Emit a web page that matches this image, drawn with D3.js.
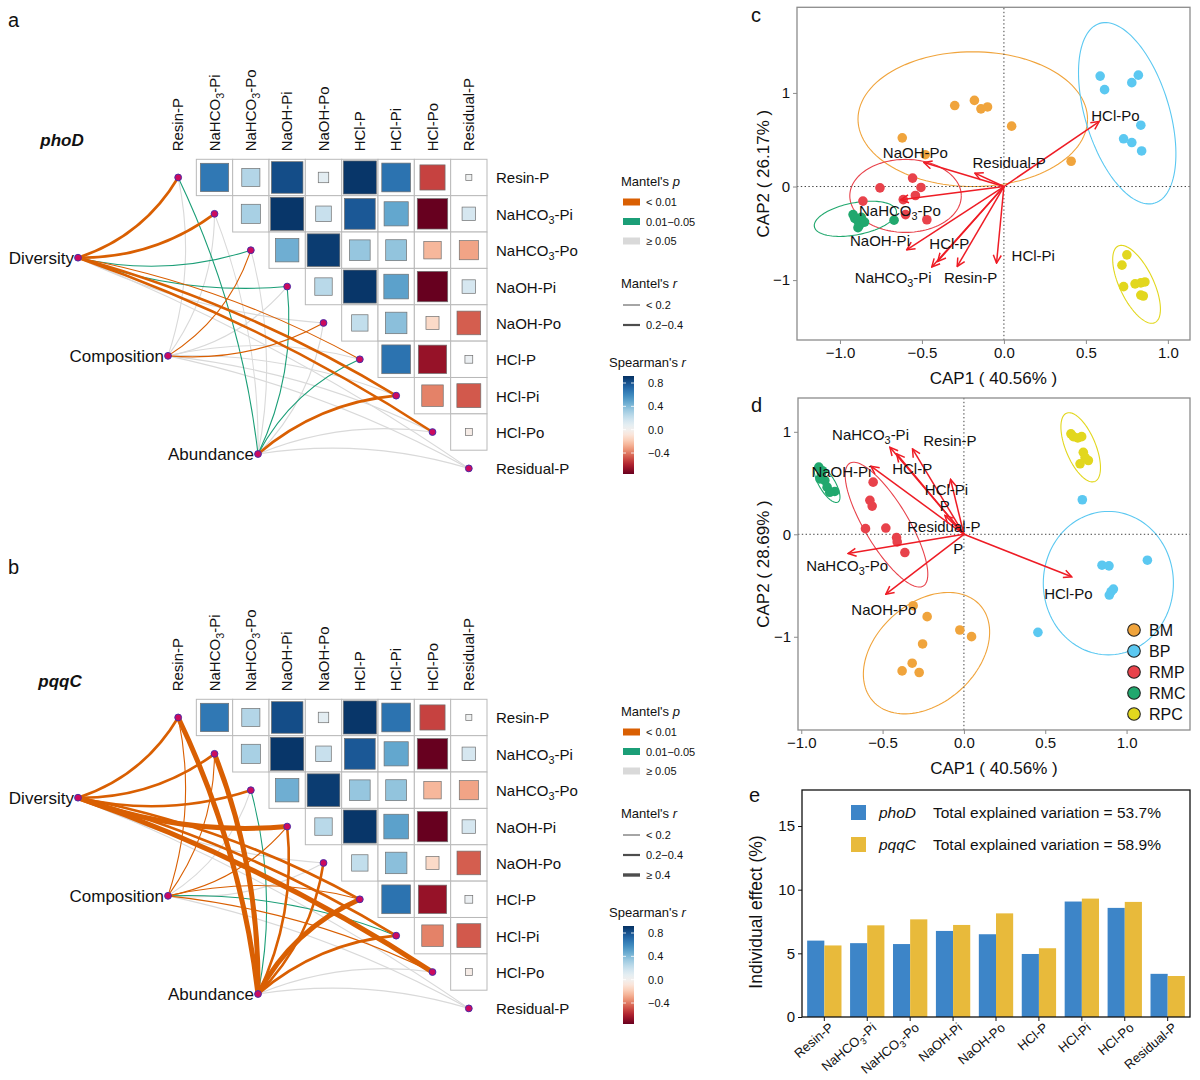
<!DOCTYPE html>
<html>
<head>
<meta charset="utf-8">
<script src="https://cdn.jsdelivr.net/npm/d3@7"></script>
<style>
  body { margin: 0; background: #fff; }
  svg { display: block; }
  text { font-family: "Liberation Sans", Arial, sans-serif; fill: #111; }
</style>
</head>
<body>
<svg id="fig" width="1200" height="1080"></svg>
<script>
// ---- data ----
var envVars = ["Resin-P", "NaHCO3-Pi", "NaHCO3-Po", "NaOH-Pi", "NaOH-Po", "HCl-P", "HCl-Pi", "HCl-Po", "Residual-P"];
var specVars = ["Diversity", "Composition", "Abundance"];

// Spearman r between soil P fractions, upper triangle (row i vs columns i+1..)
var spearmanRows = [
  [0.66, 0.27, 0.82, 0.09, 0.90, 0.68, -0.52, 0.03],
  [0.30, 0.90, 0.20, 0.78, 0.48, -0.76, 0.15],
  [0.45, 0.88, 0.35, 0.36, -0.25, -0.30],
  [0.25, 0.90, 0.50, -0.76, 0.15],
  [0.22, 0.38, -0.14, -0.46],
  [0.68, -0.66, 0.05],
  [-0.38, -0.47],
  [-0.04]
];

// Mantel tests: [spec, env, r, p]
var mantelPhoD = [
  ["Diversity", "Resin-P", 0.28, 0.002], ["Diversity", "NaHCO3-Pi", 0.26, 0.003], ["Diversity", "NaHCO3-Po", 0.15, 0.02],
  ["Diversity", "NaOH-Pi", 0.14, 0.03], ["Diversity", "NaOH-Po", 0.05, 0.3], ["Diversity", "HCl-P", 0.18, 0.006],
  ["Diversity", "HCl-Pi", 0.31, 0.001], ["Diversity", "HCl-Po", 0.33, 0.001], ["Diversity", "Residual-P", 0.04, 0.4],
  ["Composition", "Resin-P", 0.06, 0.2], ["Composition", "NaHCO3-Pi", 0.05, 0.3], ["Composition", "NaHCO3-Po", 0.16, 0.008],
  ["Composition", "NaOH-Pi", 0.07, 0.15], ["Composition", "NaOH-Po", 0.17, 0.007], ["Composition", "HCl-P", 0.08, 0.12],
  ["Composition", "HCl-Pi", 0.05, 0.3], ["Composition", "HCl-Po", 0.06, 0.25], ["Composition", "Residual-P", 0.03, 0.5],
  ["Abundance", "Resin-P", 0.13, 0.03], ["Abundance", "NaHCO3-Pi", 0.05, 0.3], ["Abundance", "NaHCO3-Po", 0.06, 0.2],
  ["Abundance", "NaOH-Pi", 0.14, 0.02], ["Abundance", "NaOH-Po", 0.04, 0.4], ["Abundance", "HCl-P", 0.12, 0.04],
  ["Abundance", "HCl-Pi", 0.27, 0.002], ["Abundance", "HCl-Po", 0.07, 0.1], ["Abundance", "Residual-P", 0.03, 0.6]
];
var mantelPqqC = [
  ["Diversity", "Resin-P", 0.30, 0.001], ["Diversity", "NaHCO3-Pi", 0.32, 0.001], ["Diversity", "NaHCO3-Po", 0.29, 0.001],
  ["Diversity", "NaOH-Pi", 0.46, 0.001], ["Diversity", "NaOH-Po", 0.06, 0.2], ["Diversity", "HCl-P", 0.28, 0.002],
  ["Diversity", "HCl-Pi", 0.25, 0.003], ["Diversity", "HCl-Po", 0.41, 0.001], ["Diversity", "Residual-P", 0.05, 0.3],
  ["Composition", "Resin-P", 0.15, 0.005], ["Composition", "NaHCO3-Pi", 0.16, 0.005], ["Composition", "NaHCO3-Po", 0.06, 0.2],
  ["Composition", "NaOH-Pi", 0.15, 0.006], ["Composition", "NaOH-Po", 0.07, 0.15], ["Composition", "HCl-P", 0.17, 0.004],
  ["Composition", "HCl-Pi", 0.13, 0.03], ["Composition", "HCl-Po", 0.16, 0.005], ["Composition", "Residual-P", 0.04, 0.4],
  ["Abundance", "Resin-P", 0.52, 0.001], ["Abundance", "NaHCO3-Pi", 0.47, 0.001], ["Abundance", "NaHCO3-Po", 0.12, 0.02],
  ["Abundance", "NaOH-Pi", 0.30, 0.001], ["Abundance", "NaOH-Po", 0.28, 0.001], ["Abundance", "HCl-P", 0.44, 0.001],
  ["Abundance", "HCl-Pi", 0.30, 0.001], ["Abundance", "HCl-Po", 0.07, 0.1], ["Abundance", "Residual-P", 0.04, 0.4]
];
var pLabels = ["< 0.01", "0.01\u22120.05", "\u2265 0.05"];
var rLabels = ["< 0.2", "0.2\u22120.4", "\u2265 0.4"];

// CAP ordinations
var capGroups = ["BM", "BP", "RMP", "RMC", "RPC"];
var sitesPhoD = [
  ["BM", -0.30, 0.865], ["BM", -0.18, 0.92], ["BM", -0.14, 0.83], ["BM", -0.10, 0.85], ["BM", 0.047, 0.645], ["BM", -0.62, 0.52], ["BM", -0.48, 0.34], ["BM", 0.41, 0.27],
  ["BP", 0.587, 1.18], ["BP", 0.614, 1.035], ["BP", 0.82, 1.19], ["BP", 0.78, 1.11], ["BP", 0.835, 0.655], ["BP", 0.73, 0.51], ["BP", 0.78, 0.47], ["BP", 0.84, 0.38],
  ["RMP", -0.756, -0.014], ["RMP", -0.557, 0.09], ["RMP", -0.506, -0.01], ["RMP", -0.54, -0.096], ["RMP", -0.614, -0.14], ["RMP", -0.86, -0.156], ["RMP", -0.60, -0.30], ["RMP", -0.47, -0.355],
  ["RMC", -0.92, -0.30], ["RMC", -0.91, -0.34], ["RMC", -0.89, -0.37], ["RMC", -0.88, -0.41], ["RMC", -0.89, -0.44], ["RMC", -0.87, -0.33], ["RMC", -0.85, -0.38], ["RMC", -0.67, -0.36],
  ["RPC", 0.75, -0.73], ["RPC", 0.72, -0.84], ["RPC", 0.73, -1.07], ["RPC", 0.835, -1.03], ["RPC", 0.86, -1.02], ["RPC", 0.835, -1.16], ["RPC", 0.85, -1.17], ["RPC", 0.80, -1.04]
];
// [group, cx, cy, axis1 x, axis1 y, axis2 x, axis2 y]
var ellipsesPhoD = [
  ["BM", -0.19, 0.72, 0.70, 0.0, 0.0, 0.72],
  ["BP", 0.752, 0.783, 0.168, -0.96, 0.245, 0.131],
  ["RMP", -0.60, -0.10, 0.34, 0.0, 0.0, 0.39],
  ["RMC", -0.906, -0.345, 0.25, 0.085, 0.019, -0.168],
  ["RPC", 0.809, -1.045, 0.112, -0.409, 0.093, 0.078]
];
// [variable, tip x, tip y, label x, label y]
var arrowsPhoD = [
  ["HCl-Po", 0.581, 0.694, 0.68, 0.755], ["NaOH-Po", -0.488, 0.256, -0.54, 0.356],
  ["Residual-P", -0.177, 0.143, 0.032, 0.256], ["NaHCO3-Po", -0.63, -0.142, -0.634, -0.26],
  ["NaOH-Pi", -0.593, -0.676, -0.756, -0.587], ["HCl-P", -0.404, -0.80, -0.333, -0.615],
  ["NaHCO3-Pi", -0.44, -0.86, -0.675, -0.978], ["Resin-P", -0.285, -0.854, -0.203, -0.978],
  ["HCl-Pi", -0.045, -0.818, 0.179, -0.747]
];
var sitesPqqC = [
  ["BM", -0.312, -0.697], ["BM", -0.226, -0.804], ["BM", -0.025, -0.934], ["BM", 0.047, -0.999], ["BM", -0.254, -1.07], ["BM", -0.318, -1.258], ["BM", -0.38, -1.333], ["BM", -0.275, -1.349],
  ["BP", 0.728, 0.337], ["BP", 0.849, -0.302], ["BP", 0.892, -0.308], ["BP", 1.128, -0.253], ["BP", 0.919, -0.535], ["BP", 0.894, -0.593], ["BP", 0.455, -0.957], ["BP", 0.905, -0.56],
  ["RMP", -0.558, 0.509], ["RMP", -0.578, 0.331], ["RMP", -0.564, 0.275], ["RMP", -0.605, 0.055], ["RMP", -0.48, 0.061], ["RMP", -0.414, -0.032], ["RMP", -0.41, -0.075], ["RMP", -0.363, -0.178],
  ["RMC", -0.892, 0.655], ["RMC", -0.876, 0.59], ["RMC", -0.855, 0.525], ["RMC", -0.841, 0.46], ["RMC", -0.794, 0.418], ["RMC", -0.825, 0.41], ["RMC", -0.87, 0.62], ["RMC", -0.885, 0.54],
  ["RPC", 0.658, 0.98], ["RPC", 0.673, 0.953], ["RPC", 0.724, 0.953], ["RPC", 0.734, 0.80], ["RPC", 0.765, 0.72], ["RPC", 0.714, 0.688], ["RPC", 0.70, 0.94], ["RPC", 0.745, 0.75]
];
var ellipsesPqqC = [
  ["BM", -0.23, -1.16, 0.329, 0.469, 0.206, -0.362],
  ["BP", 0.888, -0.477, 0.40, 0.0, 0.0, 0.70],
  ["RMP", -0.476, 0.094, 0.226, -0.599, 0.116, 0.109],
  ["RMC", -0.841, 0.493, 0.067, -0.178, 0.042, 0.04],
  ["RPC", 0.718, 0.849, 0.087, -0.333, 0.085, 0.056]
];
var arrowsPqqC = [
  ["NaHCO3-Pi", -0.455, 0.849, -0.574, 0.97], ["Resin-P", -0.316, 0.834, -0.086, 0.914],
  ["HCl-P", -0.414, 0.785, -0.318, 0.639], ["NaOH-Pi", -0.572, 0.665, -0.753, 0.606],
  ["HCl-Pi", -0.082, 0.535, -0.107, 0.428], ["Residual-P", -0.117, 0.185, -0.123, 0.071],
  ["NaHCO3-Po", -0.712, -0.188, -0.718, -0.308], ["NaOH-Po", -0.48, -0.584, -0.492, -0.739],
  ["HCl-Po", 0.663, -0.415, 0.642, -0.587]
];
var extraLabelsPqqC = [["P", -0.117, 0.272], ["P", -0.035, -0.146]];

// individual effects (%)
var effectPhoD = [6.0, 5.8, 5.73, 6.76, 6.5, 4.95, 9.07, 8.57, 3.39];
var effectPqqC = [5.62, 7.2, 7.67, 7.23, 8.14, 5.4, 9.3, 9.04, 3.22];
var genes = ["phoD", "pqqC"];
var totalExplained = ["53.7%", "58.9%"];

// ---- helpers ----
var svg = d3.select("#fig");
var defs = svg.append("defs");

function chemText(sel, name, size) {
  var parts = name.split("HCO3");
  if (parts.length === 1) { sel.text(name); return; }
  sel.append("tspan").text(parts[0] + "HCO");
  sel.append("tspan").attr("font-size", size * 0.72).attr("dy", size * 0.28).text("3");
  sel.append("tspan").attr("dy", -size * 0.28).text(parts[1]);
}

var corrColor = d3.scaleDiverging().domain([-0.76, 0, 0.92]).interpolator(d3.interpolateRdBu);
var pClass = d3.scaleThreshold().domain([0.01, 0.05]).range([0, 1, 2]);
var rClass = d3.scaleThreshold().domain([0.2, 0.4]).range([0, 1, 2]);
var pColor = ["#D95F02", "#1B9E77", "#D9D9D9"];
var rWidth = [1.1, 2.6, 5.0];

// ---- panels a / b ----
function drawCorrPanel(top, mantel, legendTop, tag) {
  var g = svg.append("g");
  var x = d3.scaleBand().domain(envVars).range([160, 487]);
  var y = d3.scaleBand().domain(envVars).range([top, top + 327.3]);
  var bw = x.bandwidth();

  var cells = [];
  spearmanRows.forEach(function(row, i) {
    row.forEach(function(r, k) { cells.push({row: envVars[i], col: envVars[i + 1 + k], r: r}); });
  });

  g.selectAll("rect.cell").data(cells).join("rect").attr("class", "cell")
    .attr("x", function(d) { return x(d.col); })
    .attr("y", function(d) { return y(d.row); })
    .attr("width", bw).attr("height", bw)
    .attr("fill", "#fff").attr("stroke", "#b9b9b9").attr("stroke-width", 1);

  g.selectAll("rect.sq").data(cells).join("rect").attr("class", "sq")
    .each(function(d) {
      var s = bw * 0.96 * Math.sqrt(Math.abs(d.r));
      d3.select(this)
        .attr("x", x(d.col) + (bw - s) / 2)
        .attr("y", y(d.row) + (bw - s) / 2)
        .attr("width", s).attr("height", s);
    })
    .attr("fill", function(d) { return corrColor(d.r); })
    .attr("stroke", "#707070").attr("stroke-width", 0.7);

  // column labels
  g.selectAll("text.col").data(envVars).join("text").attr("class", "col")
    .attr("transform", function(d) { return "translate(" + (x(d) + bw / 2 + 5) + "," + (top - 8) + ") rotate(-90)"; })
    .attr("font-size", 15)
    .each(function(d) { chemText(d3.select(this), d, 15); });

  // row labels
  g.selectAll("text.row").data(envVars).join("text").attr("class", "row")
    .attr("x", 496)
    .attr("y", function(d) { return y(d) + bw / 2 + 6; })
    .attr("font-size", 15)
    .each(function(d) { chemText(d3.select(this), d, 15); });

  // spec nodes
  var sx = d3.scalePoint().domain(specVars).range([78, 258]);
  var sy = d3.scalePoint().domain(specVars).range([top + 98.4, top + 294.7]);
  function envPos(e) { return [x(e) + bw / 2, y(e) + bw / 2]; }

  var edges = mantel.slice().sort(function(a, b) {
    return d3.descending(pClass(a[3]), pClass(b[3])) || d3.ascending(a[2], b[2]);
  });
  g.selectAll("path.edge").data(edges).join("path").attr("class", "edge")
    .attr("d", function(d) {
      var x0 = sx(d[0]), y0 = sy(d[0]);
      var p1 = envPos(d[1]);
      var dx = p1[0] - x0, dy = p1[1] - y0, len = Math.sqrt(dx * dx + dy * dy);
      var sign = envVars.indexOf(d[1]) <= 4 ? 1 : -1;
      var bend = sign * Math.min(24, 0.2 * len) / len;
      var cx = (x0 + p1[0]) / 2 - dy * bend, cy = (y0 + p1[1]) / 2 + dx * bend;
      var p = d3.path();
      p.moveTo(x0, y0);
      p.quadraticCurveTo(cx, cy, p1[0], p1[1]);
      return p.toString();
    })
    .attr("fill", "none")
    .attr("stroke", function(d) { return pColor[pClass(d[3])]; })
    .attr("stroke-width", function(d) { return rWidth[rClass(d[2])]; })
    .attr("stroke-linecap", "round");

  var nodePts = envVars.map(envPos).concat(specVars.map(function(s) { return [sx(s), sy(s)]; }));
  g.selectAll("circle.node").data(nodePts).join("circle").attr("class", "node")
    .attr("cx", function(d) { return d[0]; }).attr("cy", function(d) { return d[1]; })
    .attr("r", 3.4).attr("fill", "#CC0A5E").attr("stroke", "#4B2CA8").attr("stroke-width", 1);

  g.selectAll("text.spec").data(specVars).join("text").attr("class", "spec")
    .attr("x", function(d) { return sx(d) - 4; })
    .attr("y", function(d) { return sy(d) + 6; })
    .attr("text-anchor", "end").attr("font-size", 17)
    .text(function(d) { return d; });

  drawLegend(legendTop, mantel, tag);
}

function drawLegend(top, mantel, tag) {
  var g = svg.append("g");
  var t1 = g.append("text").attr("x", 621).attr("y", top + 5).attr("font-size", 13);
  t1.append("tspan").text("Mantel's ");
  t1.append("tspan").attr("font-style", "italic").text("p");

  g.selectAll("rect.pkey").data(pLabels).join("rect").attr("class", "pkey")
    .attr("x", 623).attr("y", function(d, i) { return top + 17.5 + i * 19.5; })
    .attr("width", 17).attr("height", 7)
    .attr("fill", function(d, i) { return pColor[i]; });
  g.selectAll("text.pkey").data(pLabels).join("text").attr("class", "pkey")
    .attr("x", 646).attr("y", function(d, i) { return top + 25 + i * 19.5; })
    .attr("font-size", 11).attr("fill", "#222").text(function(d) { return d; });

  var t2 = g.append("text").attr("x", 621).attr("y", top + 107).attr("font-size", 13);
  t2.append("tspan").text("Mantel's ");
  t2.append("tspan").attr("font-style", "italic").text("r");

  var present = Array.from(new Set(mantel.map(function(d) { return rClass(d[2]); }))).sort();
  var legW = [1, 2.2, 3.4];
  g.selectAll("line.rkey").data(present).join("line").attr("class", "rkey")
    .attr("x1", 623).attr("x2", 640)
    .attr("y1", function(d, i) { return top + 124 + i * 20; })
    .attr("y2", function(d, i) { return top + 124 + i * 20; })
    .attr("stroke", "#4d4d4d").attr("stroke-width", function(d) { return legW[d]; });
  g.selectAll("text.rkey").data(present).join("text").attr("class", "rkey")
    .attr("x", 646).attr("y", function(d, i) { return top + 128 + i * 20; })
    .attr("font-size", 11).attr("fill", "#222").text(function(d) { return rLabels[d]; });

  var extra = (present.length - 2) * 20;
  var t3 = g.append("text").attr("x", 609).attr("y", top + 186 + extra).attr("font-size", 13);
  t3.append("tspan").text("Spearman's ");
  t3.append("tspan").attr("font-style", "italic").text("r");

  var cb0 = top + 195 + extra, cb1 = top + 293 + extra;
  var cbScale = d3.scaleLinear().domain([0.92, -0.76]).range([cb0, cb1]);
  var grad = defs.append("linearGradient").attr("id", "cb" + tag)
    .attr("x1", 0).attr("y1", 0).attr("x2", 0).attr("y2", 1);
  d3.range(0, 1.0001, 0.05).forEach(function(t) {
    grad.append("stop").attr("offset", t).attr("stop-color", corrColor(0.92 - t * 1.68));
  });
  g.append("rect").attr("x", 623).attr("y", cb0).attr("width", 11).attr("height", cb1 - cb0)
    .attr("fill", "url(#cb" + tag + ")");
  var ticks = [0.8, 0.4, 0, -0.4];
  ticks.forEach(function(v) {
    var yy = cbScale(v);
    g.append("line").attr("x1", 623).attr("x2", 626).attr("y1", yy).attr("y2", yy).attr("stroke", "#fff").attr("stroke-width", 0.8);
    g.append("line").attr("x1", 631).attr("x2", 634).attr("y1", yy).attr("y2", yy).attr("stroke", "#fff").attr("stroke-width", 0.8);
    g.append("text").attr("x", 648).attr("y", yy + 4).attr("font-size", 11).attr("fill", "#222")
      .text(d3.format(".1f")(v));
  });
}

drawCorrPanel(159.3, mantelPhoD, 181, "a");
drawCorrPanel(699.3, mantelPqqC, 711, "b");

svg.append("text").attr("x", 62).attr("y", 146).attr("text-anchor", "middle")
  .attr("font-size", 17).attr("font-weight", "bold").attr("font-style", "italic").text("phoD");
svg.append("text").attr("x", 60).attr("y", 687).attr("text-anchor", "middle")
  .attr("font-size", 17).attr("font-weight", "bold").attr("font-style", "italic").text("pqqC");

// ---- panels c / d ----
var groupColor = d3.scaleOrdinal().domain(capGroups)
  .range(["#F0A43C", "#5BC8F1", "#E8424B", "#21A86E", "#E2D71E"]);

defs.append("marker").attr("id", "arrowhead")
  .attr("viewBox", "0 0 10 10").attr("refX", 9).attr("refY", 5)
  .attr("markerWidth", 10).attr("markerHeight", 10)
  .attr("markerUnits", "userSpaceOnUse").attr("orient", "auto")
  .append("path").attr("d", "M1,1 L9,5 L1,9").attr("fill", "none")
  .attr("stroke", "#EE1C25").attr("stroke-width", 1.5);

function drawCap(o) {
  var x = d3.scaleLinear().domain(o.xd).range(o.xr);
  var y = d3.scaleLinear().domain(o.yd).range(o.yr);
  var g = svg.append("g");
  var clipId = "clip" + o.tag;
  defs.append("clipPath").attr("id", clipId).append("rect")
    .attr("x", o.xr[0]).attr("y", o.yr[1]).attr("width", o.xr[1] - o.xr[0]).attr("height", o.yr[0] - o.yr[1]);
  var inner = g.append("g").attr("clip-path", "url(#" + clipId + ")");

  var tt = d3.range(0, 2 * Math.PI + 0.01, Math.PI / 60);
  inner.selectAll("path.ell").data(o.ellipses).join("path").attr("class", "ell")
    .attr("d", function(e) {
      return d3.line()
        .x(function(t) { return x(e[1] + e[3] * Math.cos(t) + e[5] * Math.sin(t)); })
        .y(function(t) { return y(e[2] + e[4] * Math.cos(t) + e[6] * Math.sin(t)); })(tt);
    })
    .attr("fill", "none").attr("stroke", function(e) { return groupColor(e[0]); }).attr("stroke-width", 1.1);

  inner.append("line").attr("x1", x(0)).attr("x2", x(0)).attr("y1", o.yr[0]).attr("y2", o.yr[1])
    .attr("stroke", "#444").attr("stroke-dasharray", "1.4,2.4").attr("stroke-width", 1);
  inner.append("line").attr("x1", o.xr[0]).attr("x2", o.xr[1]).attr("y1", y(0)).attr("y2", y(0))
    .attr("stroke", "#444").attr("stroke-dasharray", "1.4,2.4").attr("stroke-width", 1);

  inner.selectAll("circle.site").data(o.sites).join("circle").attr("class", "site")
    .attr("cx", function(d) { return x(d[1]); }).attr("cy", function(d) { return y(d[2]); })
    .attr("r", 4.8).attr("fill", function(d) { return groupColor(d[0]); });

  inner.selectAll("line.arrow").data(o.arrows).join("line").attr("class", "arrow")
    .attr("x1", x(0)).attr("y1", y(0))
    .attr("x2", function(d) { return x(d[1]); }).attr("y2", function(d) { return y(d[2]); })
    .attr("stroke", "#EE1C25").attr("stroke-width", 1.5).attr("marker-end", "url(#arrowhead)");

  inner.selectAll("text.alab").data(o.arrows).join("text").attr("class", "alab")
    .attr("x", function(d) { return x(d[3]); }).attr("y", function(d) { return y(d[4]) + 5; })
    .attr("text-anchor", "middle").attr("font-size", 15)
    .each(function(d) { chemText(d3.select(this), d[0], 15); });

  inner.selectAll("text.xlab").data(o.extra || []).join("text").attr("class", "xlab")
    .attr("x", function(d) { return x(d[1]); }).attr("y", function(d) { return y(d[2]) + 5; })
    .attr("text-anchor", "middle").attr("font-size", 15).text(function(d) { return d[0]; });

  // frame and axes
  g.append("rect").attr("x", o.xr[0]).attr("y", o.yr[1])
    .attr("width", o.xr[1] - o.xr[0]).attr("height", o.yr[0] - o.yr[1])
    .attr("fill", "none").attr("stroke", "#8c8c8c").attr("stroke-width", 1.3);

  var ax = g.append("g").attr("transform", "translate(0," + o.yr[0] + ")")
    .call(d3.axisBottom(x).tickValues([-1, -0.5, 0, 0.5, 1]).tickFormat(d3.format(".1f")).tickSize(4).tickPadding(3));
  var ay = g.append("g").attr("transform", "translate(" + o.xr[0] + ",0)")
    .call(d3.axisLeft(y).tickValues([-1, 0, 1]).tickFormat(d3.format("d")).tickSize(4).tickPadding(3));
  [ax, ay].forEach(function(a) {
    a.select(".domain").remove();
    a.selectAll(".tick line").attr("stroke", "#8c8c8c");
    a.selectAll(".tick text").attr("font-size", 15).attr("fill", "#333")
      .attr("font-family", "Liberation Sans, Arial, sans-serif");
  });

  var midX = (o.xr[0] + o.xr[1]) / 2, midY = (o.yr[0] + o.yr[1]) / 2;
  g.append("text").attr("x", midX).attr("y", o.yr[0] + 44).attr("text-anchor", "middle")
    .attr("font-size", 17).text(o.xTitle);
  g.append("text").attr("transform", "translate(" + 769 + "," + midY + ") rotate(-90)")
    .attr("text-anchor", "middle").attr("font-size", 17).text(o.yTitle);
}

drawCap({
  tag: "c", xd: [-1.262, 1.135], xr: [797, 1190], yd: [-1.64, 1.915], yr: [340, 7.3],
  sites: sitesPhoD, ellipses: ellipsesPhoD, arrows: arrowsPhoD,
  xTitle: "CAP1 ( 40.56% )", yTitle: "CAP2 ( 26.17% )"
});
drawCap({
  tag: "d", xd: [-1.02, 1.39], xr: [798, 1190], yd: [-1.91, 1.33], yr: [730, 398],
  sites: sitesPqqC, ellipses: ellipsesPqqC, arrows: arrowsPqqC, extra: extraLabelsPqqC,
  xTitle: "CAP1 ( 40.56% )", yTitle: "CAP2 ( 28.69% )"
});

// legend for d
var legY = d3.scalePoint().domain(capGroups).range([630, 714]);
var lg = svg.append("g");
lg.selectAll("circle").data(capGroups).join("circle")
  .attr("cx", 1134).attr("cy", function(d) { return legY(d); }).attr("r", 6.3)
  .attr("fill", function(d) { return groupColor(d); }).attr("stroke", "#222").attr("stroke-width", 1.1);
lg.selectAll("text").data(capGroups).join("text")
  .attr("x", 1149).attr("y", function(d) { return legY(d) + 6; })
  .attr("font-size", 16).text(function(d) { return d; });

// ---- panel e ----
var xe = d3.scaleBand().domain(envVars).range([802, 1190]).paddingInner(0.2).paddingOuter(0.12);
var xs = d3.scaleBand().domain(genes).range([0, xe.bandwidth()]);
var ye = d3.scaleLinear().domain([0, 17.83]).range([1017, 790]);
var geneColor = d3.scaleOrdinal().domain(genes).range(["#3D85C8", "#E8BA3B"]);

var barData = [];
envVars.forEach(function(v, i) {
  barData.push({cat: v, gene: "phoD", val: effectPhoD[i]});
  barData.push({cat: v, gene: "pqqC", val: effectPqqC[i]});
});
var ge = svg.append("g");
ge.selectAll("rect.bar").data(barData).join("rect").attr("class", "bar")
  .attr("x", function(d) { return xe(d.cat) + xs(d.gene); })
  .attr("y", function(d) { return ye(d.val); })
  .attr("width", xs.bandwidth())
  .attr("height", function(d) { return ye(0) - ye(d.val); })
  .attr("fill", function(d) { return geneColor(d.gene); });

ge.append("rect").attr("x", 802).attr("y", 790).attr("width", 388).attr("height", 227)
  .attr("fill", "none").attr("stroke", "#111").attr("stroke-width", 1.3);

var aye = ge.append("g").attr("transform", "translate(802,0)")
  .call(d3.axisLeft(ye).tickValues([0, 5, 10, 15]).tickSize(4).tickPadding(3));
var axe = ge.append("g").attr("transform", "translate(0,1017)")
  .call(d3.axisBottom(xe).tickSize(4).tickFormat(""));
[aye, axe].forEach(function(a) {
  a.select(".domain").remove();
  a.selectAll(".tick line").attr("stroke", "#111");
  a.selectAll(".tick text").attr("font-size", 15).attr("fill", "#333")
    .attr("font-family", "Liberation Sans, Arial, sans-serif");
});
ge.selectAll("text.elab").data(envVars).join("text").attr("class", "elab")
  .attr("transform", function(d) { return "translate(" + (xe(d) + xe.bandwidth() / 2 + 10) + ",1029) rotate(-40)"; })
  .attr("text-anchor", "end").attr("font-size", 13)
  .each(function(d) { chemText(d3.select(this), d, 13); });

ge.append("text").attr("transform", "translate(762,912) rotate(-90)")
  .attr("text-anchor", "middle").attr("font-size", 17.5).text("Individual effect (%)");

var legE = d3.scalePoint().domain(genes).range([812.5, 844.5]);
ge.selectAll("rect.ekey").data(genes).join("rect").attr("class", "ekey")
  .attr("x", 851).attr("y", function(d) { return legE(d) - 7.5; })
  .attr("width", 15).attr("height", 15).attr("fill", function(d) { return geneColor(d); });
ge.selectAll("text.ekey").data(genes).join("text").attr("class", "ekey")
  .attr("x", 879).attr("y", function(d) { return legE(d) + 5.5; })
  .attr("font-size", 15.5).attr("font-style", "italic").text(function(d) { return d; });
ge.selectAll("text.etot").data(genes).join("text").attr("class", "etot")
  .attr("x", 933).attr("y", function(d) { return legE(d) + 5.5; })
  .attr("font-size", 15.5).text(function(d, i) { return "Total explained variation = " + totalExplained[i]; });

// ---- panel letters ----
svg.selectAll("text.letter").data([["a", 8, 27], ["b", 8, 574], ["c", 751, 22], ["d", 751, 412], ["e", 749, 802]])
  .join("text").attr("class", "letter")
  .attr("x", function(d) { return d[1]; }).attr("y", function(d) { return d[2]; })
  .attr("font-family", "Liberation Serif, Times New Roman, serif").attr("font-size", 20)
  .text(function(d) { return d[0]; });
</script>
</body>
</html>
